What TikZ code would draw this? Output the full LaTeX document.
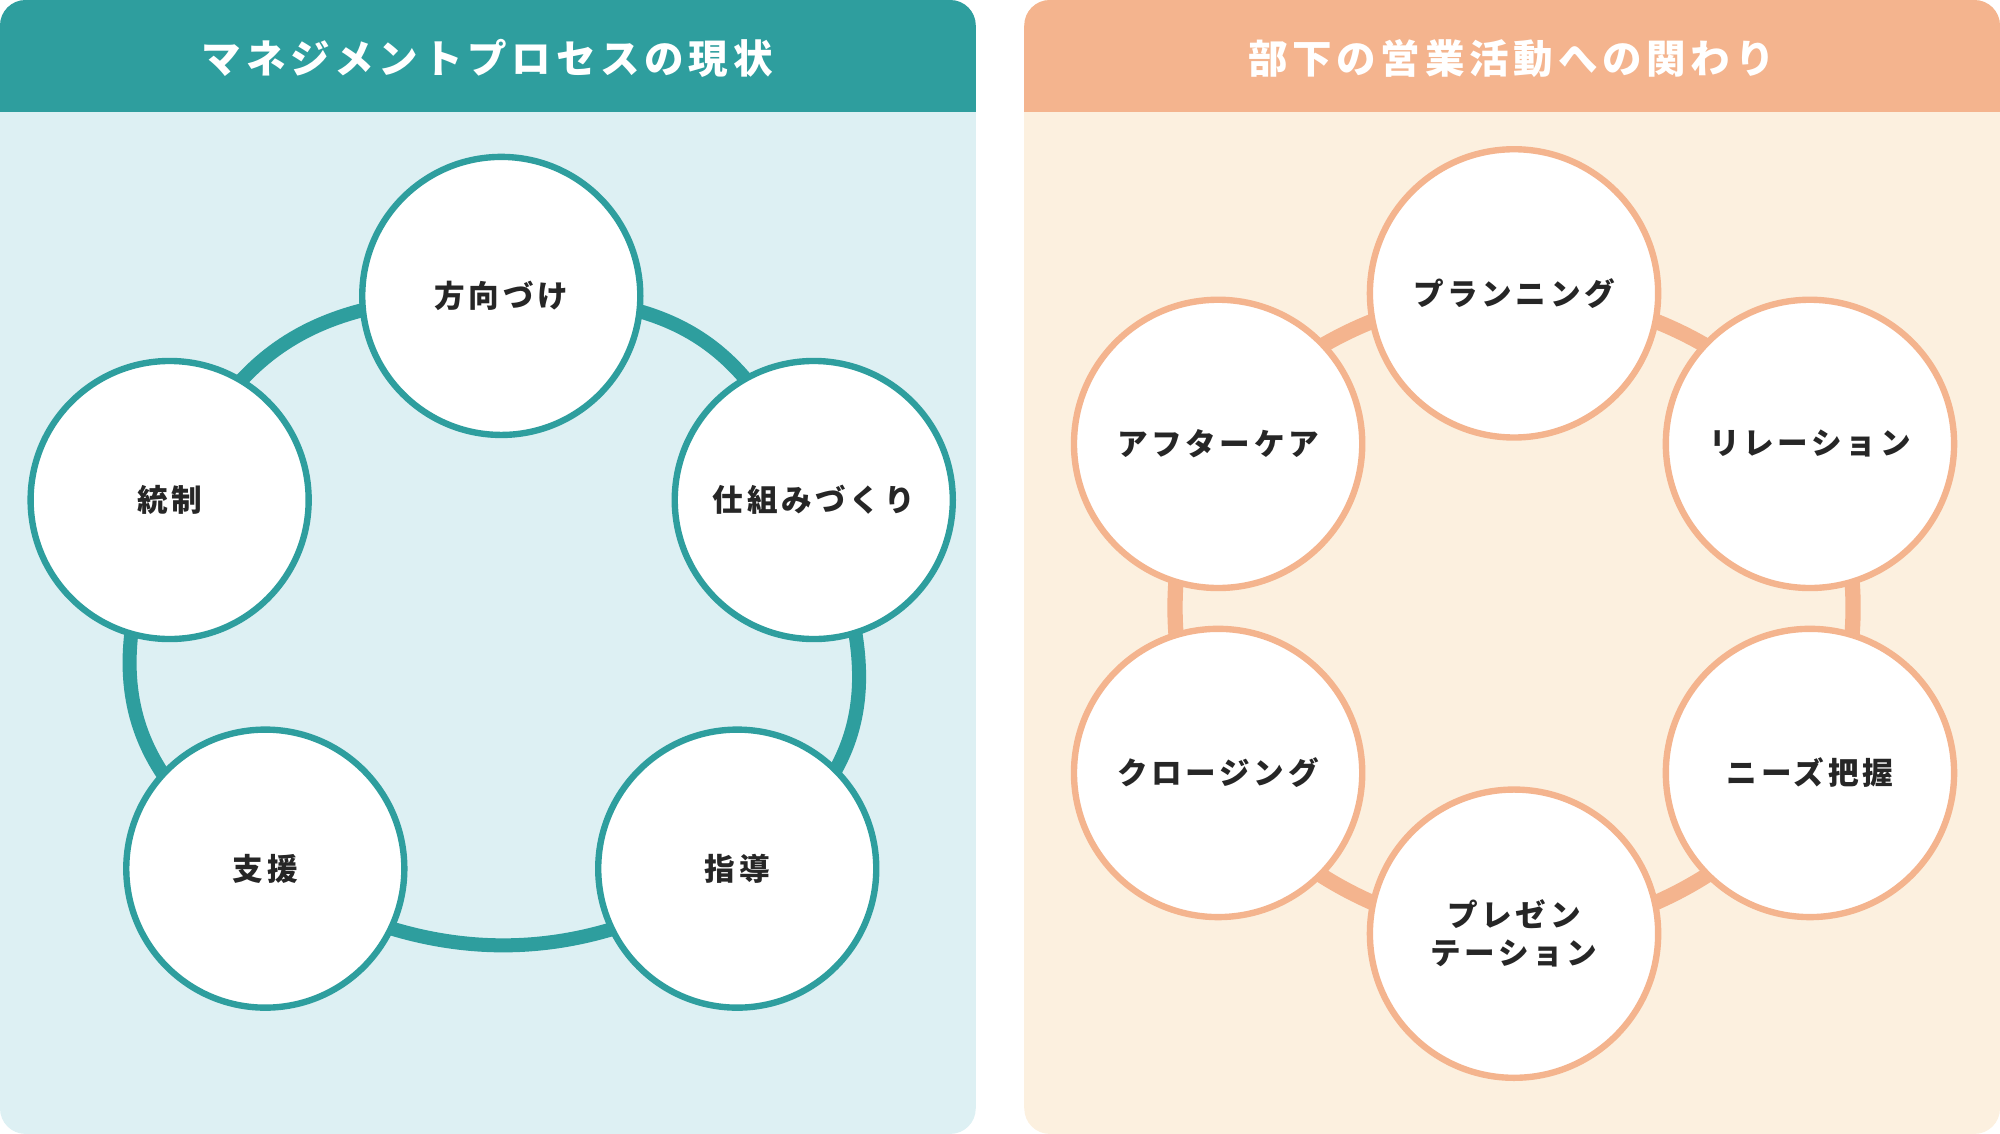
\documentclass[tikz,border=0pt]{standalone}
\usepackage{fontspec}
\setmainfont{Noto Sans CJK JP}[LetterSpace=12]
\usetikzlibrary{positioning}
\definecolor{teal1}{HTML}{2E9E9E}
\definecolor{tealbg}{HTML}{DDF0F3}
\definecolor{peach1}{HTML}{F4B48E}
\definecolor{peachbg}{HTML}{FCF0DF}
\tikzset{
  stage/.style={circle, draw=#1, line width=5pt, fill=white, minimum size=218pt,
    inner sep=0pt, font=\fontsize{24}{30}\selectfont\bfseries, text=black!85, align=center},
  title/.style={font=\fontsize{31}{36}\selectfont\bfseries, text=white}
}
\begin{document}
\begin{tikzpicture}[x=1pt, y=-1pt]
  \useasboundingbox (0,0) rectangle (1568,889);

  % panels
  \fill[tealbg, rounded corners=20pt] (0,0) rectangle (765,889);
  \fill[teal1, rounded corners=20pt] (0,0) rectangle (765,60);
  \fill[teal1] (0,30) rectangle (765,88);
  \node[title] (ltitle) at (382,46) {マネジメントプロセスの現状};

  \fill[peachbg, rounded corners=20pt] (803,0) rectangle (1568,889);
  \fill[peach1, rounded corners=20pt] (803,0) rectangle (1568,60);
  \fill[peach1] (803,30) rectangle (1568,88);
  \node[title] (rtitle) at (1185,46) {部下の営業活動への関わり};

  % rings
  \draw[teal1, line width=11pt] plot[smooth cycle, tension=1]
    coordinates {(393,232) (638,392) (578,681) (208,681) (133,392)};
  \draw[peach1, line width=12pt] plot[smooth cycle, tension=0.7]
    coordinates {(1187,230) (1419,348) (1419,606) (1187,732) (955,606) (955,348)};

  % left circles
  \node[stage=teal1] (houkou) at (393,232) {方向づけ};
  \node[stage=teal1] (shikumi) at (638,392) {仕組みづくり};
  \node[stage=teal1] (shidou) at (578,681) {指導};
  \node[stage=teal1] (shien) at (208,681) {支援};
  \node[stage=teal1] (tousei) at (133,392) {統制};

  % right circles
  \node[stage=peach1, minimum size=226pt] (plan) at (1187,230) {プランニング};
  \node[stage=peach1, minimum size=226pt] (rel) at (1419,348) {リレーション};
  \node[stage=peach1, minimum size=226pt] (needs) at (1419,606) {ニーズ把握};
  \node[stage=peach1, minimum size=226pt] (pres) at (1187,732) {プレゼン\\テーション};
  \node[stage=peach1, minimum size=226pt] (close) at (955,606) {クロージング};
  \node[stage=peach1, minimum size=226pt] (after) at (955,348) {アフターケア};
\end{tikzpicture}
\end{document}
